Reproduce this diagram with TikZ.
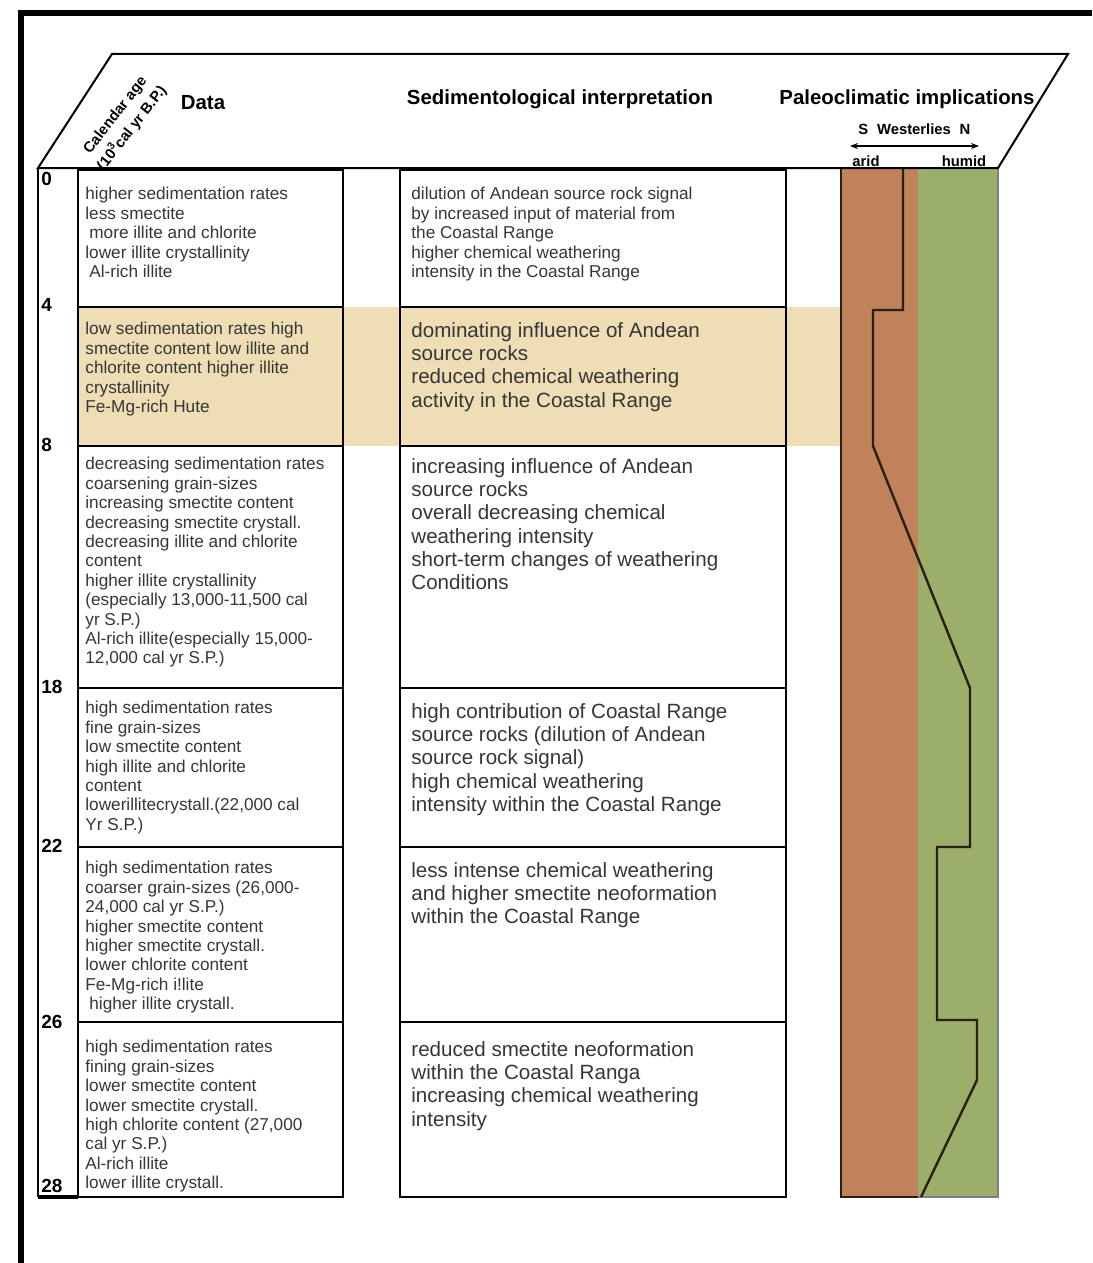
\documentclass[tikz,border=0pt]{standalone}
\usepackage{fontspec}
\setmainfont{Liberation Sans}
\usetikzlibrary{positioning,arrows.meta}
\definecolor{bandTan}{HTML}{EEDDB5}
\definecolor{aridBrown}{HTML}{C0825A}
\definecolor{humidGreen}{HTML}{9CAF6A}
\definecolor{txtGray}{HTML}{363636}
\definecolor{curveDark}{HTML}{2B1E12}
\tikzset{
  node distance=3pt and 4pt,
  box/.style={draw=black, line width=1.2pt},
  datatxt/.style={anchor=north west, inner sep=0pt, align=left, text=txtGray,
                  font=\fontsize{8.6}{9.7}\selectfont},
  interp/.style={anchor=north west, inner sep=0pt, align=left, text=txtGray,
                 font=\fontsize{10.3}{11.65}\selectfont},
  head/.style={inner sep=0pt, font=\fontsize{10.2}{12}\selectfont\bfseries},
  agelbl/.style={anchor=west, inner sep=0pt, font=\fontsize{9.5}{10}\selectfont\bfseries},
  climlbl/.style={inner sep=0pt, font=\fontsize{7.4}{8}\selectfont\bfseries},
  curve/.style={draw=curveDark, line width=1.2pt, line join=miter},
}

\begin{document}
\begin{tikzpicture}[x=0.5pt,y=-0.5pt]
    \useasboundingbox (0,0) rectangle (1092,1263);
    \draw[line width=3pt] (21,1263) -- (21,13) -- (1092,13);
    % band 4-8 ka
    \fill[bandTan] (78,307) rectangle (841,446);
    \fill[aridBrown] (841,168) rectangle (918,1197);
    \fill[humidGreen] (918,168) rectangle (998,1197);
    \draw[gray, line width=0.6pt] (918,1197) -- (998,1197) -- (998,168);
    \draw[curveDark, line width=1pt] (841,168) -- (841,1197) -- (918,1197);
    \draw[curve] (903,168) -- (903,310) -- (873,310) -- (873,446) -- (970,688) -- (970,847)
      -- (937,847) -- (937,1020) -- (977,1020) -- (977,1080) -- (921,1197);
    % header
    \draw[line width=1pt] (38,168) -- (112,54) -- (1068,54) -- (998,168) -- cycle;
    \node[inner sep=0pt, rotate=52, align=center, font=\fontsize{7.4}{10.6}\selectfont\bfseries]
      (calage) at (124,122) {Calendar age\\(10\textsuperscript{3}cal yr B.P.)};
    \node[head] (hdata) at (203,103) {Data};
    \node[head] (hsed) at (560,99) {Sedimentological interpretation};
    \node[head] (hpal) at (907,99) {Paleoclimatic implications};
    \node[climlbl] (west) at (914,129) {Westerlies};
    \node[climlbl, left=of west] (wS) {S};
    \node[climlbl, right=of west] (wN) {N};
    \node[climlbl] (arid) at (866,161) {arid};
    \node[climlbl] (humid) at (964,161) {humid};
    \coordinate (arS) at (850,146);
    \coordinate (arN) at (979,146);
    \draw[{Stealth[length=4pt]}-{Stealth[length=4pt]}, line width=0.7pt] (arS) -- (arN);
    % age axis and boxes
    \draw[line width=1pt] (38,168) -- (38,1197);
    \draw[line width=2pt] (38,1197) -- (78,1197);
    \foreach \ya/\yb in {170/307,307/446,446/688,688/847,847/1022,1022/1197}{
      \draw[box] (78,\ya) rectangle (343,\yb);
      \draw[box] (400,\ya) rectangle (786,\yb);
    }
    \foreach \a/\y in {0/179,4/305,8/445,18/687,22/846,26/1022,28/1186}
      \node[agelbl] (age\a) at (41,\y) {\a};
    \node[datatxt] (d1) at (85,187) {higher sedimentation rates\\less smectite\\\hspace{2pt}more illite and chlorite\\lower illite crystallinity\\\hspace{2pt}Al-rich illite};
    \node[datatxt] (d2) at (85,322) {low sedimentation rates high\\smectite content low illite and\\chlorite content higher illite\\crystallinity\\Fe-Mg-rich Hute};
    \node[datatxt] (d3) at (85,457) {decreasing sedimentation rates\\coarsening grain-sizes\\increasing smectite content\\decreasing smectite crystall.\\decreasing illite and chlorite\\content\\higher illite crystallinity\\(especially 13,000-11,500 cal\\yr S.P.)\\Al-rich illite(especially 15,000-\\12,000 cal yr S.P.)};
    \node[datatxt] (d4) at (85,701) {high sedimentation rates\\fine grain-sizes\\low smectite content\\high illite and chlorite\\content\\lowerillitecrystall.(22,000 cal\\Yr S.P.)};
    \node[datatxt] (d5) at (85,861) {high sedimentation rates\\coarser grain-sizes (26,000-\\24,000 cal yr S.P.)\\higher smectite content\\higher smectite crystall.\\lower chlorite content\\Fe-Mg-rich i!lite\\\hspace{2pt}higher illite crystall.};
    \node[datatxt] (d6) at (85,1040) {high sedimentation rates\\fining grain-sizes\\lower smectite content\\lower smectite crystall.\\high chlorite content (27,000\\cal yr S.P.)\\Al-rich illite\\lower illite crystall.};
    \node[datatxt] (m1) at (411,187) {dilution of Andean source rock signal\\by increased input of material from\\the Coastal Range\\higher chemical weathering\\intensity in the Coastal Range};
    \node[interp] (m2) at (411,322) {dominating influence of Andean\\source rocks\\reduced chemical weathering\\activity in the Coastal Range};
    \node[interp] (m3) at (411,458) {increasing influence of Andean\\source rocks\\overall decreasing chemical\\weathering intensity\\short-term changes of weathering\\Conditions};
    \node[interp] (m4) at (411,703) {high contribution of Coastal Range\\source rocks (dilution of Andean\\source rock signal)\\high chemical weathering\\intensity within the Coastal Range};
    \node[interp] (m5) at (411,862) {less intense chemical weathering\\and higher smectite neoformation\\within the Coastal Range};
    \node[interp] (m6) at (411,1041) {reduced smectite neoformation\\within the Coastal Ranga\\increasing chemical weathering\\intensity};
\end{tikzpicture}
\end{document}
